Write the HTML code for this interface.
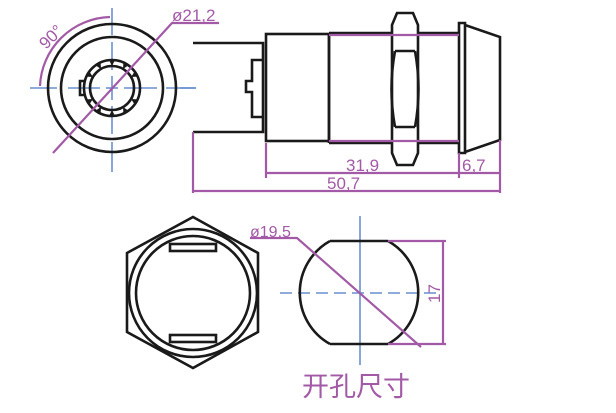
<!DOCTYPE html>
<html><head><style>body{margin:0;background:#fff}svg{display:block}</style></head><body>
<svg width="616" height="413" viewBox="0 0 616 413" xmlns="http://www.w3.org/2000/svg">
<g stroke="#6a8fd0" stroke-width="1.6" fill="none">
<line x1="30" y1="88" x2="57" y2="88"/><line x1="68" y1="88" x2="100" y2="88"/><line x1="106" y1="88" x2="118" y2="88"/><line x1="124" y1="88" x2="157" y2="88"/><line x1="166" y1="88" x2="196" y2="88"/>
<line x1="112" y1="8" x2="112" y2="35"/><line x1="112" y1="42" x2="112" y2="70"/><line x1="112" y1="76" x2="112" y2="100"/><line x1="112" y1="106" x2="112" y2="134"/><line x1="112" y1="142" x2="112" y2="172"/>
<line x1="180" y1="88" x2="196" y2="88"/>
<line x1="360" y1="216" x2="360" y2="365"/>
<line x1="280" y1="293" x2="440" y2="293" stroke-dasharray="12,6"/>
</g>
<g stroke="#1a1a1a" stroke-width="2.6" fill="none">
<circle cx="112" cy="88" r="64"/><circle cx="112" cy="88" r="51"/>
<circle cx="112" cy="88" r="28"/><circle cx="112" cy="88" r="22"/>
<path d="M84 81 L80 81 L80 95 L84 95"/>
<path d="M193 43 H263 V132 H193"/>
<path d="M263 60 H252 V81 H246 V92 H252 V117 H263"/>
<rect x="266" y="34" width="63" height="107"/>
<path d="M329 33 H393 M329 143 H393 M329 33 V143"/>
<path d="M418 33 H459 M418 143 H459"/>
<path d="M397 13 H413 L418 25 V153 L413 165 H397 L392 153 V25 Z"/>
<path d="M395 51 H415 M395 127 H415"/>
<path d="M395 51 Q388 89 395 127 M415 51 Q422 89 415 127"/>
<path d="M459 23 H465 V153 H459 Z"/>
<path d="M465 25 L500 37 V140 L465 152"/>
<polygon points="193,217 258,253 258,332 193,368 127,332 127,253"/>
<circle cx="193" cy="293" r="64"/><circle cx="193" cy="293" r="57"/>
<rect x="170" y="244" width="46" height="7"/><rect x="170" y="335" width="46" height="7"/>
<path d="M330 241 A59 59 0 0 0 330 344 M388 241 A59 59 0 0 1 388 344 M330 241 H388 M330 344 H388"/>
</g>
<g fill="#1a1a1a" transform="translate(112,88)">
<polygon points="-3,-28 3,-28 0,-22"/><polygon points="-3,-28 3,-28 0,-22" transform="rotate(30)"/><polygon points="-3,-28 3,-28 0,-22" transform="rotate(60)"/><polygon points="-3,-28 3,-28 0,-22" transform="rotate(120)"/><polygon points="-3,-28 3,-28 0,-22" transform="rotate(150)"/><polygon points="-3,-28 3,-28 0,-22" transform="rotate(180)"/><polygon points="-3,-28 3,-28 0,-22" transform="rotate(210)"/><polygon points="-3,-28 3,-28 0,-22" transform="rotate(240)"/><polygon points="-3,-28 3,-28 0,-22" transform="rotate(300)"/><polygon points="-3,-28 3,-28 0,-22" transform="rotate(330)"/>
</g>
<g stroke="#a35aa6" stroke-width="2.2" fill="none">
<path d="M53 153 L172 23 H219"/>
<path d="M40 86 A72 72 0 0 1 110 17"/>
<path d="M329 35 H459 M329 141 H459"/>
<path d="M193 132 V193 M266 143 V178 M459 153 V178 M500 140 V193"/>
<path d="M266 173 H459 M459 173 H500 M193 191 H500"/>
<path d="M250 238 H297 L421 347"/>
<path d="M388 241 H446 M388 344 H446 M443 241 V344"/>
</g>
<g fill="#a35aa6" font-family="Liberation Sans, sans-serif">
<text x="172" y="21" font-size="17">ø21,2</text>
<text x="0" y="0" font-size="17" transform="translate(46,50) rotate(-45)">90°</text>
<text x="346" y="171" font-size="17">31,9</text>
<text x="462" y="171" font-size="17">6,7</text>
<text x="327" y="189" font-size="17">50,7</text>
<text x="250" y="237" font-size="16">ø19,5</text>
<text x="0" y="0" font-size="17" transform="translate(440,303) rotate(-90)">17</text>
<text x="302" y="396" font-size="27" font-family="Liberation Sans, Noto Sans CJK SC, sans-serif">开孔尺寸</text>
</g>
</svg>
</body></html>
